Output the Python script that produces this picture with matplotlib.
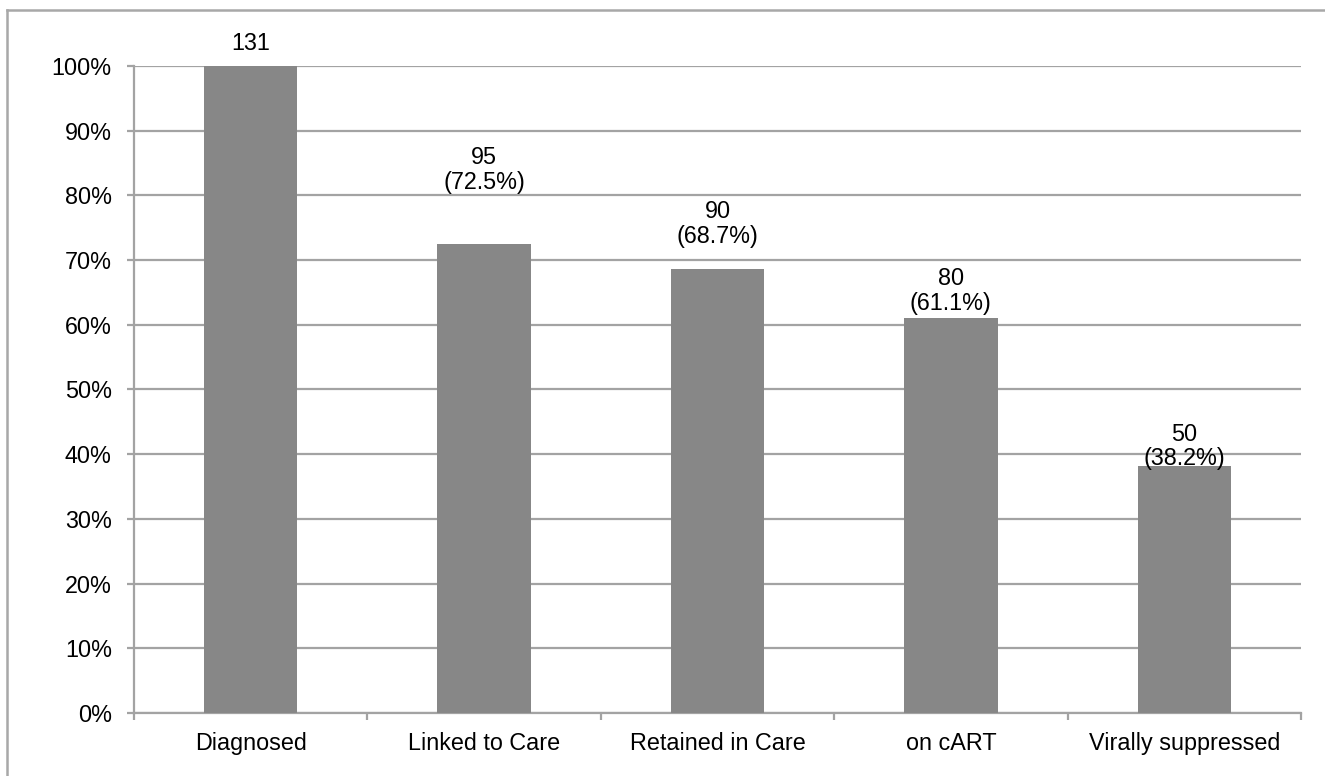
import matplotlib
matplotlib.use("Agg")
import matplotlib.pyplot as plt
from matplotlib.lines import Line2D
from matplotlib.ticker import PercentFormatter, FixedLocator, NullFormatter

plt.rcParams['font.family'] = ['Liberation Sans', 'DejaVu Sans']

stages = ["Diagnosed", "Linked to Care", "Retained in Care", "on cART", "Virally suppressed"]
counts = [131, 95, 90, 80, 50]
percents = [100.0, 72.5, 68.7, 61.1, 38.2]
labels = ["131", "95\n(72.5%)", "90\n(68.7%)", "80\n(61.1%)", "50\n(38.2%)"]
# vertical gap (points) between each bar top and the centre of its label
label_gap = [16, 53, 32, 19, 14]

W, H, DPI = 1325, 776, 100
FS = 16.8
fig = plt.figure(figsize=(W / DPI, H / DPI), dpi=DPI)
ax = fig.add_axes([134 / W, 1 - 713 / H, (1301 - 134) / W, (713 - 66) / H])

grid_c = "#a3a3a3"
bar_c = "#878787"

x = range(len(stages))
ax.bar(x, percents, width=0.4, color=bar_c, zorder=3)

for xi, p, lab, g in zip(x, percents, labels, label_gap):
    ax.annotate(lab, xy=(xi, p), xytext=(0, g), textcoords="offset points",
                ha="center", va="center", fontsize=FS, linespacing=1.1,
                annotation_clip=False, zorder=4)

ax.set_xlim(-0.5, len(stages) - 0.5)
ax.set_ylim(0, 100)
ax.set_yticks(range(0, 101, 10))
ax.yaxis.set_major_formatter(PercentFormatter(decimals=0))
ax.yaxis.grid(True, color=grid_c, linewidth=1.6, zorder=0)
ax.set_axisbelow(True)

ax.set_xticks(list(x))
ax.set_xticklabels(stages)
ax.xaxis.set_minor_locator(FixedLocator([i - 0.5 for i in range(len(stages) + 1)]))
ax.xaxis.set_minor_formatter(NullFormatter())
ax.tick_params(axis="x", which="major", length=0, pad=14, labelsize=FS)
ax.tick_params(axis="x", which="minor", length=5, width=1.6, color=grid_c)
ax.tick_params(axis="y", length=5, width=1.6, color=grid_c, pad=11, labelsize=FS)

for side in ("top", "right"):
    ax.spines[side].set_visible(False)
for side in ("left", "bottom"):
    ax.spines[side].set_color(grid_c)
    ax.spines[side].set_linewidth(1.6)

# outer frame (top and left edges)
bx, by = 6.5 / W, 1 - 9.5 / H
fig.add_artist(Line2D([bx, bx], [0, by], transform=fig.transFigure, color="#a8a8a8", linewidth=1.8))
fig.add_artist(Line2D([bx, 1], [by, by], transform=fig.transFigure, color="#a8a8a8", linewidth=1.8))

fig.savefig("out.png", dpi=DPI, facecolor="white")
